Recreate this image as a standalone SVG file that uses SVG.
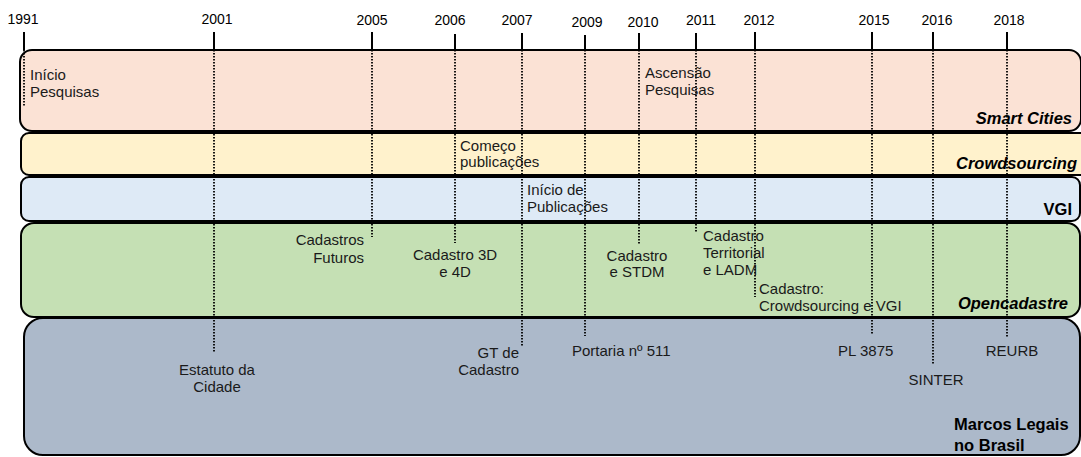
<svg xmlns="http://www.w3.org/2000/svg" width="1081" height="457" viewBox="0 0 1081 457">
<style>
.band{stroke:#000;stroke-width:2}
.yr{font-family:"Liberation Sans",Arial,sans-serif;font-size:14px;fill:#000;text-anchor:middle}
.t{font-family:"Liberation Sans",Arial,sans-serif;font-size:15px;fill:#1a1a1a}
.c{text-anchor:middle}
.r{text-anchor:end}
.lb{font-family:"Liberation Sans",Arial,sans-serif;font-size:16.5px;font-weight:bold;fill:#000}
.it{font-style:italic}
.tick{stroke:#000;stroke-width:2}
.dot{stroke:#000;stroke-width:1.8;stroke-dasharray:1.5 1.5}
</style>
<rect width="1081" height="457" fill="#fff"/>
<g id="band-smart-cities">
<rect class="band" x="20" y="50" width="1061" height="81" rx="12" fill="#FBE2D5"/>
<text class="lb it r" x="1072" y="124">Smart Cities</text>
</g>
<g id="band-crowdsourcing">
<rect class="band" x="21" y="133" width="1069" height="42" rx="8" fill="#FFF2CC"/>
<text class="lb it r" x="1077" y="169">Crowdsourcing</text>
</g>
<g id="band-vgi">
<rect class="band" x="21" y="177" width="1059" height="44" rx="8" fill="#DEEAF6"/>
<text class="lb r" x="1072" y="215">VGI</text>
</g>
<g id="band-opencadastre">
<rect class="band" x="21" y="223" width="1059" height="94" rx="13" fill="#C5E0B4"/>
<text class="lb it r" x="1068" y="309">Opencadastre</text>
</g>
<g id="band-marcos-legais">
<rect class="band" x="24" y="318" width="1056" height="137" rx="19" fill="#ACB9CA"/>
<text class="lb" x="954" y="430">Marcos Legais</text>
<text class="lb" x="954" y="451">no Brasil</text>
</g>
<g id="connectors">
<line class="tick" x1="24" y1="32" x2="24" y2="50"/>
<line class="tick" x1="214" y1="32" x2="214" y2="50"/>
<line class="tick" x1="372" y1="32" x2="372" y2="50"/>
<line class="tick" x1="455" y1="34" x2="455" y2="50"/>
<line class="tick" x1="522" y1="33" x2="522" y2="50"/>
<line class="tick" x1="585" y1="35" x2="585" y2="50"/>
<line class="tick" x1="639" y1="33" x2="639" y2="50"/>
<line class="tick" x1="696" y1="33" x2="696" y2="50"/>
<line class="tick" x1="755" y1="32" x2="755" y2="50"/>
<line class="tick" x1="872" y1="32" x2="872" y2="50"/>
<line class="tick" x1="933" y1="32" x2="933" y2="50"/>
<line class="tick" x1="1007" y1="32" x2="1007" y2="50"/>
<line class="dot" x1="24" y1="50" x2="24" y2="106"/>
<line class="dot" x1="214" y1="50" x2="214" y2="353"/>
<line class="dot" x1="372" y1="50" x2="372" y2="237"/>
<line class="dot" x1="455" y1="50" x2="455" y2="243"/>
<line class="dot" x1="522" y1="50" x2="522" y2="346"/>
<line class="dot" x1="585" y1="50" x2="585" y2="336"/>
<line class="dot" x1="639" y1="50" x2="639" y2="245"/>
<line class="dot" x1="696" y1="50" x2="696" y2="232"/>
<line class="dot" x1="755" y1="50" x2="755" y2="297"/>
<line class="dot" x1="872" y1="50" x2="872" y2="335"/>
<line class="dot" x1="933" y1="50" x2="933" y2="364"/>
<line class="dot" x1="1007" y1="50" x2="1007" y2="338"/>
</g>
<g id="years">
<text class="yr" x="23" y="24">1991</text>
<text class="yr" x="217" y="24">2001</text>
<text class="yr" x="372" y="25">2005</text>
<text class="yr" x="450" y="25">2006</text>
<text class="yr" x="517" y="25">2007</text>
<text class="yr" x="587" y="27">2009</text>
<text class="yr" x="643" y="27">2010</text>
<text class="yr" x="701" y="25">2011</text>
<text class="yr" x="759" y="25">2012</text>
<text class="yr" x="874" y="25">2015</text>
<text class="yr" x="937" y="25">2016</text>
<text class="yr" x="1009" y="25">2018</text>
</g>
<g id="ev-inicio-pesquisas"><text class="t" x="30" y="80">Início</text><text class="t" x="30" y="97">Pesquisas</text></g>
<g id="ev-ascensao"><text class="t" x="645" y="78">Ascensão</text><text class="t" x="645" y="95">Pesquisas</text></g>
<g id="ev-comeco"><text class="t" x="460" y="151">Começo</text><text class="t" x="460" y="167">publicações</text></g>
<g id="ev-inicio-publicacoes"><text class="t" x="527" y="195">Início de</text><text class="t" x="527" y="212">Publicações</text></g>
<g id="ev-cadastros-futuros"><text class="t r" x="364" y="245">Cadastros</text><text class="t r" x="364" y="263">Futuros</text></g>
<g id="ev-cadastro-3d"><text class="t c" x="455" y="260">Cadastro 3D</text><text class="t c" x="455" y="277">e 4D</text></g>
<g id="ev-cadastro-stdm"><text class="t c" x="637" y="261">Cadastro</text><text class="t c" x="637" y="277">e STDM</text></g>
<g id="ev-cadastro-ladm"><text class="t" x="703" y="241">Cadastro</text><text class="t" x="703" y="258">Territorial</text><text class="t" x="703" y="275">e LADM</text></g>
<g id="ev-cadastro-crowd"><text class="t" x="759" y="294">Cadastro:</text><text class="t" x="759" y="311">Crowdsourcing e VGI</text></g>
<g id="ev-estatuto"><text class="t c" x="217" y="375">Estatuto da</text><text class="t c" x="217" y="392">Cidade</text></g>
<g id="ev-gt"><text class="t r" x="519" y="358">GT de</text><text class="t r" x="519" y="375">Cadastro</text></g>
<g id="ev-portaria"><text class="t" x="572" y="356">Portaria nº 511</text></g>
<g id="ev-pl"><text class="t" x="838" y="356">PL 3875</text></g>
<g id="ev-sinter"><text class="t c" x="936" y="385">SINTER</text></g>
<g id="ev-reurb"><text class="t c" x="1012" y="356">REURB</text></g>
</svg>
